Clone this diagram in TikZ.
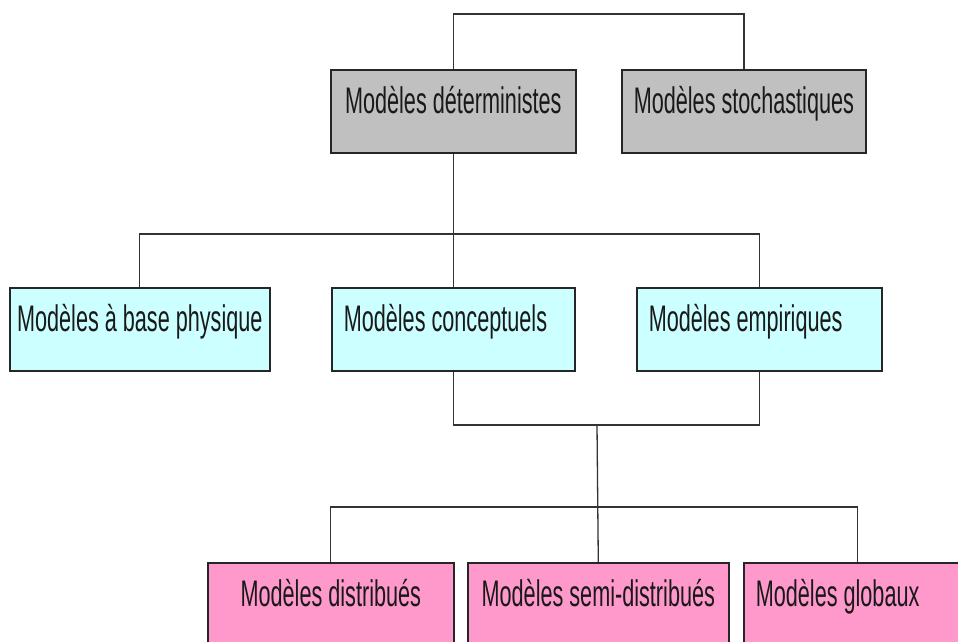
\documentclass[tikz,border=0pt]{standalone}
\usepackage{fontspec}
\setmainfont{Liberation Sans}[FakeStretch=0.585]
\usetikzlibrary{positioning}
\definecolor{boxgrey}{RGB}{192,192,192}
\definecolor{boxcyan}{RGB}{204,255,255}
\definecolor{boxpink}{RGB}{255,153,204}
\begin{document}
\begin{tikzpicture}[x=1pt,y=-1pt,
      modele/.style={rectangle, draw=black!85, line width=1.6pt, anchor=north west, inner xsep=12pt, inner ysep=0pt, text height=44pt, text depth=39pt, font=\fontsize{37}{40}\selectfont, text=black!90},
      lien/.style={draw=black!80, line width=1.3pt}]

\useasboundingbox (0,0) rectangle (958,641);
\fill[white] (0,0) rectangle (958,641);
\clip (0,0) rectangle (958,641);

\node[modele, fill=boxgrey, minimum width=245pt] (det) at (330,69) {Modèles déterministes};
\node[modele, fill=boxgrey, minimum width=244pt] (stoch) at (621,69) {Modèles stochastiques};
\node[modele, fill=boxcyan, minimum width=260pt, inner xsep=6pt] (phys) at (9,287) {Modèles à base physique};
\node[modele, fill=boxcyan, text width=219pt, align=flush left] (conc) at (331,287) {Modèles conceptuels};
\node[modele, fill=boxcyan, text width=221pt, align=flush left] (emp) at (636,287) {Modèles empiriques};
\node[modele, fill=boxpink, minimum width=246pt] (dist) at (207,562) {Modèles distribués};
\node[modele, fill=boxpink, minimum width=261pt] (semi) at (467,562) {Modèles semi-distribués};
\node[modele, fill=boxpink, text width=204pt, align=flush left] (glob) at (743,562) {Modèles globaux};

\coordinate (sommet) at (600,14);
\coordinate (barre1) at (453,234);
\coordinate (barre2) at (597,425);
\coordinate (barre3) at (597,507);
\draw[lien] (det.north) |- (sommet) -| (stoch.north);
\draw[lien] (det.south) -- (conc.north);
\draw[lien] (phys.north) |- (barre1) -| (emp.north);
\draw[lien] (conc.south) |- (barre2) -| (emp.south);
\draw[lien] (barre2) -- (semi.north);
\draw[lien] (dist.north) |- (barre3) -| (glob.north);

\end{tikzpicture}
\end{document}
